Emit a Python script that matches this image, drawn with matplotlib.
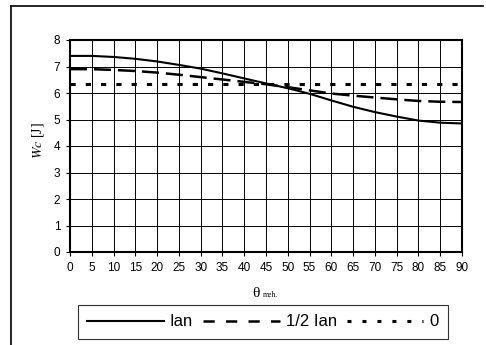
import numpy as np
import matplotlib.pyplot as plt
from matplotlib.lines import Line2D

plt.rcParams['font.family'] = ['Liberation Sans', 'DejaVu Sans']
plt.rcParams['mathtext.fontset'] = 'stix'

# ── data ──
theta = [0, 5, 10, 15, 20, 25, 30, 35, 40, 45, 50, 55, 60, 65, 70, 75, 80, 85, 90]
wc_ian = [7.40, 7.40, 7.36, 7.29, 7.19, 7.06, 6.92, 6.74, 6.55, 6.36, 6.18, 5.97,
          5.72, 5.48, 5.28, 5.11, 4.96, 4.88, 4.85]
wc_half = [6.90, 6.90, 6.87, 6.83, 6.77, 6.69, 6.60, 6.51, 6.42, 6.33, 6.22, 6.10,
           5.98, 5.90, 5.83, 5.76, 5.70, 5.67, 5.66]
wc_zero = [6.33] * len(theta)
labels = ['Ian', '1/2 Ian', '0']

W, H = 486, 345
fig = plt.figure(figsize=(W / 100, H / 100), dpi=100, facecolor='white')
ax = fig.add_axes([70/W, 1 - 252/H, 392/W, 212/H])

ax.plot(theta, wc_ian, color='black', lw=1.5, solid_capstyle='butt')
ax.plot(theta, wc_half, color='black', lw=1.8, dashes=(6.8, 2.8))
ax.plot(theta, wc_zero, color='black', lw=2.2, dashes=(1.7, 3.3))

ax.set_xlim(0, 90)
ax.set_ylim(0, 8)
ax.set_xticks(np.arange(0, 91, 5))
ax.set_yticks(np.arange(0, 9, 1))
ax.grid(True, color='black', lw=0.7)
ax.set_axisbelow(True)
for s in ax.spines.values():
    s.set_linewidth(1.5)
ax.tick_params(direction='out', length=3, width=0.8, labelsize=8.5, pad=4)

# axis titles
fig.text(256/W, 1 - 297/H, 'θ', ha='center', va='baseline', fontsize=11,
         family='Liberation Serif')
fig.text(263/W, 1 - 297/H, 'meh.', ha='left', va='baseline', fontsize=5.5,
         family='Liberation Serif')
fig.text(38/W, 1 - 141/H, r'$Wc$ [J]', ha='center', va='center', rotation=90,
         fontsize=10, family='Liberation Serif')

# outer frame (top and left edges visible)
fig.add_artist(Line2D([11/W, 11/W], [0, 1 - 6/H], color='black', lw=1.2))
fig.add_artist(Line2D([11/W, 483/W], [1 - 6/H, 1 - 6/H], color='black', lw=1.2))

handles = [
    Line2D([], [], color='black', lw=1.5),
    Line2D([], [], color='black', lw=1.8, dashes=(4.5, 4.5)),
    Line2D([], [], color='black', lw=2.2, dashes=(1.3, 3.6)),
]
leg = fig.legend(handles, labels, loc='center', bbox_to_anchor=(263/W, 1 - 322/H),
                 ncol=3, fontsize=12, handlelength=4.6, handletextpad=0.35,
                 columnspacing=0.6, frameon=True, fancybox=False,
                 borderpad=0.55, borderaxespad=0)
leg.get_frame().set_edgecolor('black')
leg.get_frame().set_linewidth(0.8)

plt.savefig('out.png', dpi=100, facecolor='white')
